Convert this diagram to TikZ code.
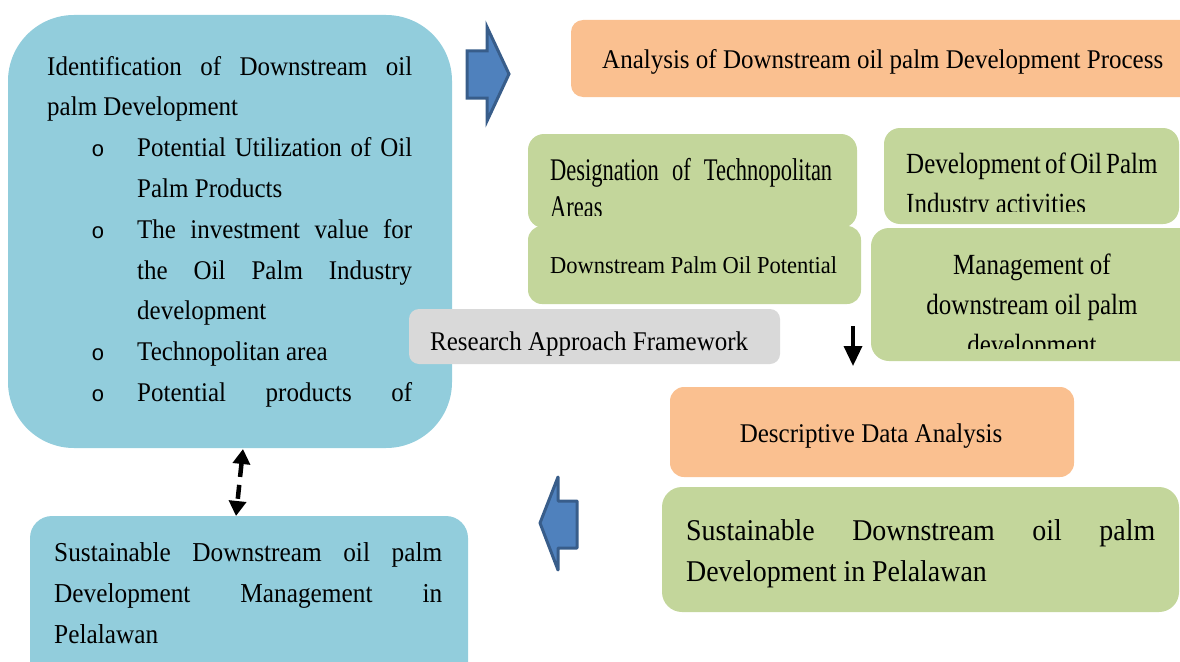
\documentclass[tikz,border=0pt]{standalone}
\usepackage{fontspec}
\setmainfont{Liberation Serif}
\newfontfamily\bulletfont{Liberation Mono}
\usepackage{graphicx}
\usetikzlibrary{arrows.meta}

\definecolor{aqua}{HTML}{92CDDC}
\definecolor{leaf}{HTML}{C3D69B}
\definecolor{peach}{HTML}{FAC090}
\definecolor{mist}{HTML}{D9D9D9}
\definecolor{arrowfill}{HTML}{4F81BD}
\definecolor{arrowline}{HTML}{385D8A}

% vertical stretch of a line of text, keeping its baseline
\newcommand{\vstretch}[2]{\scalebox{1}[#1]{#2}}

\begin{document}
\begin{tikzpicture}[x=1pt,y=-1pt,
  panel/.style={fill=#1, draw=none, inner sep=0},
  ln/.style={inner sep=0, anchor=base west, font=\fontsize{25pt}{30pt}\selectfont},
  lnsmall/.style={ln, font=\fontsize{22.5pt}{27pt}\selectfont},
  lnbig/.style={ln, font=\fontsize{27.9pt}{33pt}\selectfont},
  lnleft/.style={ln, font=\fontsize{25.3pt}{30pt}\selectfont},
  bul/.style={inner sep=0, anchor=base, font=\bulletfont\fontsize{22pt}{24pt}\selectfont},
  blockarrow/.style={fill=arrowfill, draw=arrowline, line width=3pt},
]
\useasboundingbox (0,0) rectangle (1180,661);

% ---------- panels ----------
\node[panel=aqua, rounded corners=66pt, minimum width=444pt, minimum height=433pt] (ident) at (230,231.5) {};
\node[panel=peach, rounded corners=12pt, minimum width=629pt, minimum height=77pt] (analysis) at (885.5,58.5) {};
\node[panel=leaf, rounded corners=16pt, minimum width=329pt, minimum height=94pt] (desig) at (692.5,181) {};
\node[panel=leaf, rounded corners=16pt, minimum width=295pt, minimum height=96pt] (industry) at (1031.5,176) {};
\node[panel=leaf, rounded corners=18pt, minimum width=329pt, minimum height=133pt] (manage) at (1035.5,294.5) {};
\node[panel=mist, rounded corners=10pt, minimum width=371pt, minimum height=55pt] (framework) at (594.5,336.5) {};
\node[panel=peach, rounded corners=14pt, minimum width=404pt, minimum height=90pt] (descr) at (872,432) {};
\node[panel=leaf, rounded corners=20pt, minimum width=517pt, minimum height=125pt] (sustR) at (920.5,549.5) {};
\node[panel=aqua, rounded corners=22pt, minimum width=438pt, minimum height=184pt] (sustL) at (249,608) {};

% ---------- identification list ----------
\node[ln] (i1) at (47,75) {\vstretch{1.08}{\makebox[365pt][s]{Identification of Downstream oil}}};
\node[ln] (i2) at (47,115.8) {\vstretch{1.08}{palm Development}};
\node[bul] (b1) at (98,156.6) {o};
\node[ln] (i3) at (137,156.6) {\vstretch{1.08}{\makebox[275pt][s]{Potential Utilization of Oil}}};
\node[ln] (i4) at (137,197.4) {\vstretch{1.08}{Palm Products}};
\node[bul] (b2) at (98,238.2) {o};
\node[ln] (i5) at (137,238.2) {\vstretch{1.08}{\makebox[275pt][s]{The investment value for}}};
\node[ln] (i6) at (137,279) {\vstretch{1.08}{\makebox[275pt][s]{the Oil Palm Industry}}};
\node[ln] (i7) at (137,319.8) {\vstretch{1.08}{development}};
\node[bul] (b3) at (98,360.6) {o};
\node[ln] (i8) at (137,360.6) {\vstretch{1.08}{Technopolitan area}};
\node[bul] (b4) at (98,401.4) {o};
\node[ln] (i9) at (137,401.4) {\vstretch{1.08}{\makebox[275pt][s]{Potential products of}}};

% ---------- right-hand texts ----------
\node[ln] (t1) at (602,68) {\vstretch{1.08}{Analysis of Downstream oil palm Development Process}};

\begin{scope}
  \clip (520,130) rectangle (860,215);
  \node[lnsmall] (d1) at (550,180) {\vstretch{1.4}{\makebox[282pt][s]{Designation of Technopolitan}}};
  \node[lnsmall] (d2) at (550,217) {\vstretch{1.4}{Areas}};
\end{scope}
\node[panel=leaf, rounded corners=14pt, minimum width=333pt, minimum height=78pt] (potential) at (694.5,265) {};
\node[lnsmall] (p1) at (550,273) {\vstretch{1.08}{Downstream Palm Oil Potential}};

\begin{scope}
  \clip (880,120) rectangle (1180,211);
  \node[ln] (o1) at (906,173) {\vstretch{1.17}{\makebox[250pt][s]{Development of Oil Palm}}};
  \node[ln] (o2) at (906,213) {\vstretch{1.17}{Industry activities}};
\end{scope}

\begin{scope}
  \clip (870,228) rectangle (1180,348);
  \node[ln, anchor=base] (m1) at (1032,274) {\vstretch{1.17}{Management of}};
  \node[ln, anchor=base] (m2) at (1032,314) {\vstretch{1.17}{downstream oil palm}};
  \node[ln, anchor=base] (m3) at (1032,354) {\vstretch{1.17}{development}};
\end{scope}

\node[ln] (f1) at (430,350) {\vstretch{1.08}{Research Approach Framework}};
\node[ln, anchor=base] (e1) at (871,442) {\vstretch{1.08}{Descriptive Data Analysis}};

\node[lnbig] (r1) at (686,540) {\vstretch{1.08}{\makebox[469pt][s]{Sustainable Downstream oil palm}}};
\node[lnbig] (r2) at (686,581) {\vstretch{1.08}{Development in Pelalawan}};

\node[lnleft] (s1) at (54,561) {\vstretch{1.08}{\makebox[388pt][s]{Sustainable Downstream oil palm}}};
\node[lnleft] (s2) at (54,602) {\vstretch{1.08}{\makebox[388pt][s]{Development Management in}}};
\node[lnleft] (s3) at (54,643) {\vstretch{1.08}{Pelalawan}};

% ---------- block arrows ----------
\draw[blockarrow, line join=miter] (467,51) -- (487,51) -- (487,27) -- (509,74) -- (487,121) -- (487,98) -- (467,98) -- cycle;
\draw[blockarrow, line join=round] (577,501) -- (558,501) -- (558,477) -- (540,523) -- (558,570) -- (558,548) -- (577,548) -- cycle;

% ---------- connectors ----------
\coordinate (dtop) at (243,449);
\coordinate (dbot) at (236,516);
\draw[line width=4.5pt, dash pattern=on 14pt off 8pt,
      {Triangle[length=15pt,width=17pt]}-{Triangle[length=15pt,width=17pt]}] (dtop) -- (dbot);

\coordinate (sa) at (853,326);
\coordinate (sb) at (853,366);
\draw[line width=3.5pt, -{Triangle[length=20pt,width=18pt]}] (sa) -- (sb);

\end{tikzpicture}
\end{document}
